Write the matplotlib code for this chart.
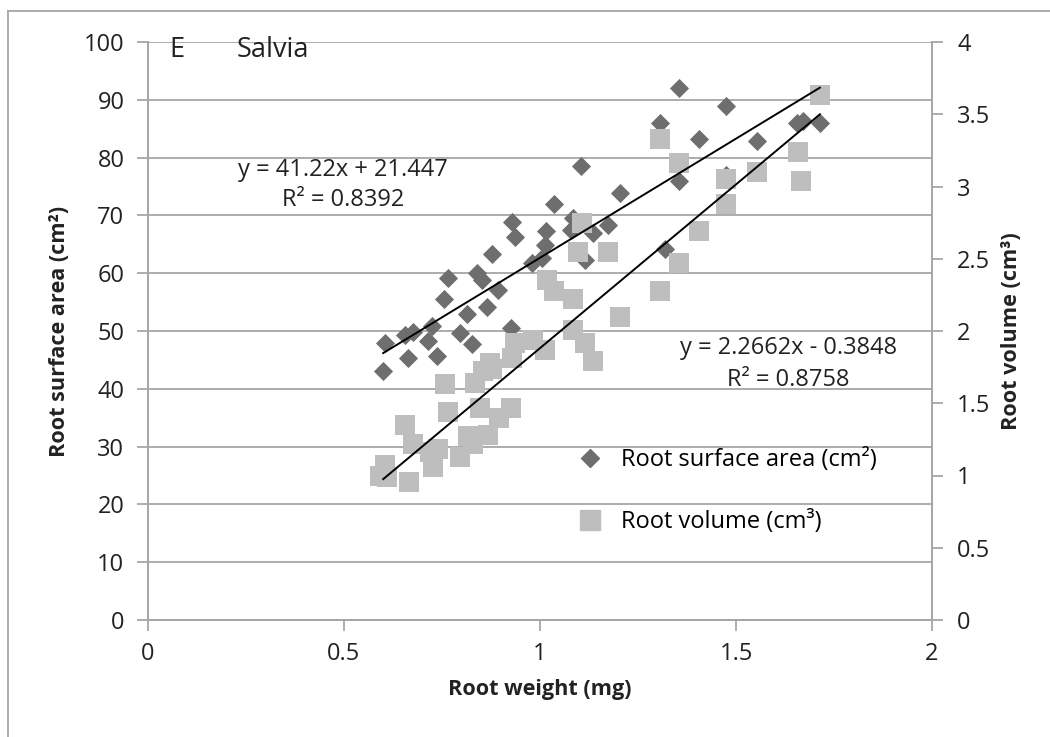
import numpy as np
import matplotlib
matplotlib.use('Agg')
import matplotlib.pyplot as plt
from matplotlib.lines import Line2D

plt.rcParams['font.family'] = ['Open Sans', 'DejaVu Sans']

# ---- data ----
sa_weight = [0.600, 0.605, 0.655, 0.675, 0.662, 0.725, 0.714, 0.737, 0.755, 0.766,
             0.796, 0.814, 0.827, 0.839, 0.852, 0.866, 0.878, 0.893, 0.926, 0.929,
             0.936, 0.980, 1.005, 1.013, 1.015, 1.036, 1.084, 1.080, 1.105, 1.115,
             1.135, 1.173, 1.204, 1.306, 1.319, 1.355, 1.355, 1.406, 1.474, 1.474,
             1.554, 1.655, 1.670, 1.714]
sa_area = [43.0, 48.0, 49.3, 49.8, 45.3, 50.8, 48.2, 45.7, 55.5, 59.1,
           49.7, 52.9, 47.7, 60.0, 58.8, 54.2, 63.3, 57.1, 50.6, 68.8,
           66.2, 61.8, 62.7, 64.9, 67.3, 72.0, 69.5, 67.5, 78.6, 62.3,
           67.0, 68.4, 73.9, 86.0, 64.2, 92.0, 76.0, 83.3, 88.9, 77.0,
           82.8, 86.0, 86.3, 86.0]

vol_weight = [0.592, 0.605, 0.609, 0.666, 0.656, 0.676, 0.719, 0.740, 0.727, 0.765,
              0.758, 0.796, 0.816, 0.829, 0.847, 0.835, 0.855, 0.878, 0.867, 0.895,
              0.926, 0.872, 0.929, 0.936, 0.982, 1.013, 1.018, 1.036, 1.084, 1.084,
              1.115, 1.135, 1.107, 1.097, 1.173, 1.204, 1.306, 1.306, 1.355, 1.355,
              1.406, 1.474, 1.474, 1.554, 1.658, 1.666, 1.714]
vol = [1.00, 1.07, 0.99, 0.955, 1.35, 1.22, 1.16, 1.18, 1.06, 1.44,
       1.63, 1.13, 1.27, 1.22, 1.47, 1.64, 1.72, 1.74, 1.28, 1.40,
       1.47, 1.78, 1.81, 1.92, 1.94, 1.87, 2.35, 2.28, 2.22, 2.01,
       1.92, 1.79, 2.75, 2.55, 2.55, 2.10, 2.28, 3.33, 3.16, 2.47,
       2.69, 3.05, 2.88, 3.10, 3.24, 3.04, 3.63]

# trendline coefficients printed on the chart
sa_slope, sa_icpt, sa_r2 = 41.22, 21.447, 0.8392
vol_slope, vol_icpt, vol_r2 = 2.2662, -0.3848, 0.8758

dark = '#6e6e6e'
light = '#bebebe'
grid = '#a6a6a6'
txt = '#222222'
fs = 17      # regular text
fsb = 15.6   # bold axis titles

fig = plt.figure(figsize=(10.5, 7.37), dpi=100)
ax = fig.add_axes([148/1050, 1-620/737, (932-148)/1050, (620-42)/737])
ax2 = ax.twinx()

ax.scatter(sa_weight, sa_area, marker='D', s=95, color=dark, lw=0, zorder=3)
ax2.scatter(vol_weight, vol, marker='s', s=14**2, color=light, lw=0, zorder=2)

xs = np.array([min(sa_weight), max(sa_weight)])
# both lines on ax2 so they sit over the squares; right axis = left / 25
ax2.plot(xs, (sa_slope*xs + sa_icpt)/25.0, color='black', lw=1.4, zorder=4)
xv = np.array([min(vol_weight) + 0.008, max(vol_weight)])
ax2.plot(xv, vol_slope*xv + vol_icpt, color='black', lw=1.4, zorder=4)

ax.set_xlim(0, 2)
ax.set_ylim(0, 100)
ax2.set_ylim(0, 4)
ax.set_xticks(np.arange(0, 2.01, 0.5))
ax.set_xticklabels(['0', '0.5', '1', '1.5', '2'])
ax.set_yticks(np.arange(0, 101, 10))
ax2.set_yticks(np.arange(0, 4.01, 0.5))
ax2.set_yticklabels(['0', '0.5', '1', '1.5', '2', '2.5', '3', '3.5', '4'])

for a in (ax, ax2):
    a.spines['top'].set_visible(False)
    for s in ('left', 'right', 'bottom'):
        a.spines[s].set_color(grid)
        a.spines[s].set_linewidth(1.3)
    a.tick_params(colors=grid, labelcolor=txt, labelsize=fs, length=8, width=1.3)
ax.tick_params(axis='y', pad=9)
ax.tick_params(axis='x', pad=8)
ax2.tick_params(axis='y', pad=10)
ax.set_axisbelow(True)
ax.yaxis.grid(True, color=grid, lw=1.3)

ax.set_xlabel('Root weight (mg)', fontsize=fsb, fontweight='bold', labelpad=9, color=txt)
ax.set_ylabel('Root surface area (cm²)', fontsize=fsb, fontweight='bold', labelpad=10, color=txt)
ax2.set_ylabel('Root volume (cm³)', fontsize=fsb, fontweight='bold', labelpad=8, color=txt)

ax.text(0.054, 98.6, 'E', fontsize=19.5, va='center', color=txt)
ax.text(0.226, 98.6, 'Salvia', fontsize=19.5, va='center', color=txt)
ax.text(0.497, 77.9, 'y = %.2fx + %.3f' % (sa_slope, sa_icpt), fontsize=fs,
        ha='center', va='center', color=txt)
ax.text(0.497, 72.6, 'R² = %.4f' % sa_r2, fontsize=fs, ha='center', va='center', color=txt)
ax.text(1.633, 47.0, 'y = %.4fx - %.4f' % (vol_slope, -vol_icpt), fontsize=fs,
        ha='center', va='center', color=txt)
ax.text(1.633, 41.6, 'R² = %.4f' % vol_r2, fontsize=fs, ha='center', va='center', color=txt)

h1 = Line2D([], [], marker='D', color=dark, ls='none', ms=9)
h2 = Line2D([], [], marker='s', color=light, ls='none', ms=14)
ax2.legend([h1, h2], ['Root surface area (cm²)', 'Root volume (cm³)'],
           loc='upper left', bbox_to_anchor=(556/1050, 1-427/737),
           bbox_transform=fig.transFigure, frameon=False, fontsize=fs,
           labelspacing=1.6, handletextpad=0.75, handlelength=1.1)

# chart-area border (cropped at right and bottom)
fig.add_artist(Line2D([8/1050, 8/1050], [0, 1-11/737], color=grid, lw=1.3,
                      transform=fig.transFigure))
fig.add_artist(Line2D([8/1050, 1], [1-11/737, 1-11/737], color=grid, lw=1.3,
                      transform=fig.transFigure))

fig.savefig('out.png', dpi=100)
